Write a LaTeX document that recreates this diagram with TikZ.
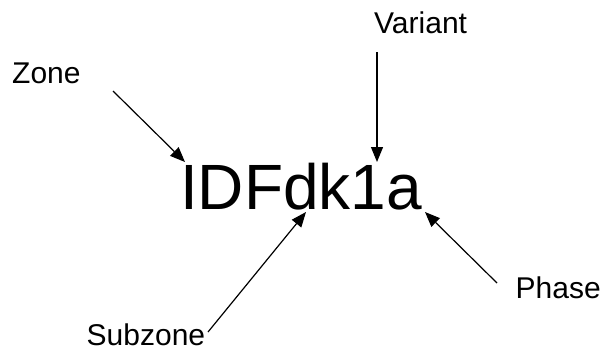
\documentclass[tikz,border=0pt]{standalone}
\usepackage{fontspec}
\setmainfont{Liberation Sans}
\usetikzlibrary{arrows.meta}
\begin{document}
\begin{tikzpicture}[x=1pt,y=-1pt,
  lbl/.style={anchor=base west,inner sep=0pt,font=\fontsize{30}{30}\selectfont},
  code/.style={anchor=base west,inner sep=0pt,font=\fontsize{64}{64}\selectfont},
  arr/.style={line width=1.2pt,-{Triangle[length=15pt,width=12pt]}}]
\useasboundingbox (0,0) rectangle (608,349);
\node[code] (main) at (180,209) {IDFdk1a};
\node[lbl] (zone) at (12,83) {Zone};
\node[lbl] (variant) at (374,33) {Variant};
\node[lbl] (subzone) at (86.5,345) {Subzone};
\node[lbl] (phase) at (515.5,298) {Phase};
\coordinate (zoneT) at (113,91);
\coordinate (zoneH) at (185,162);
\coordinate (varT) at (377,52);
\coordinate (varH) at (377,162);
\coordinate (subT) at (208,332);
\coordinate (subH) at (306,212);
\coordinate (phT) at (497,283);
\coordinate (phH) at (425,212);
\draw[arr] (zoneT) -- (zoneH);
\draw[arr] (varT) -- (varH);
\draw[arr] (subT) -- (subH);
\draw[arr] (phT) -- (phH);
\end{tikzpicture}
\end{document}
